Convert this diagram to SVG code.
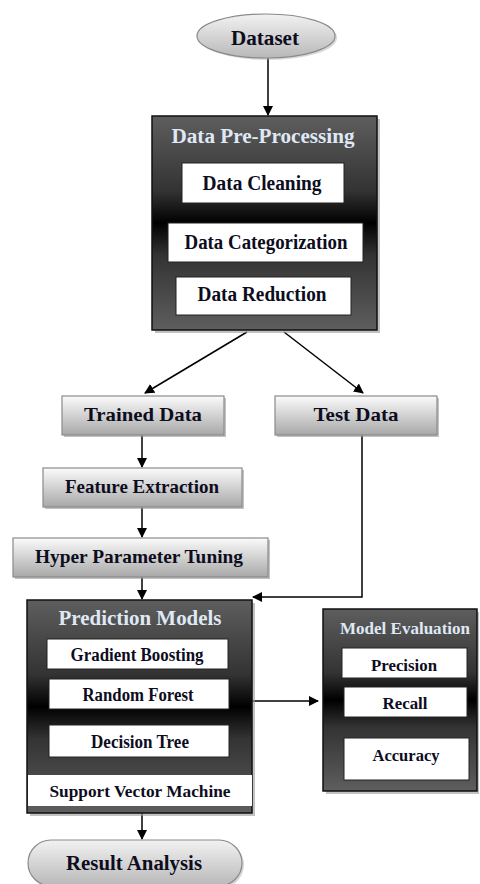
<svg xmlns="http://www.w3.org/2000/svg" width="480" height="884" viewBox="0 0 480 884">
<defs>
<linearGradient id="dark" x1="0" y1="0" x2="0" y2="1">
<stop offset="0" stop-color="#5e5e5e"/><stop offset="0.35" stop-color="#333"/><stop offset="0.5" stop-color="#000"/><stop offset="0.65" stop-color="#333"/><stop offset="1" stop-color="#5e5e5e"/>
</linearGradient>
<linearGradient id="light" x1="0" y1="0" x2="0" y2="1">
<stop offset="0" stop-color="#fbfbfb"/><stop offset="1" stop-color="#a8a8a8"/>
</linearGradient>
<linearGradient id="oval" x1="0" y1="0" x2="0" y2="1">
<stop offset="0" stop-color="#f2f2f2"/><stop offset="1" stop-color="#b8b8b8"/>
</linearGradient>
<marker id="ah" markerWidth="10" markerHeight="10" refX="9" refY="5" orient="auto" markerUnits="userSpaceOnUse">
<path d="M0,0 L10,5 L0,10 z" fill="#000"/>
</marker>
</defs>
<style>
.t{font-family:"Liberation Serif","Times New Roman",serif;font-weight:bold;fill:#0d0d1e;text-anchor:middle}
.h{font-family:"Liberation Serif","Times New Roman",serif;font-weight:bold;fill:#dfe8f4;text-anchor:middle}
.dk{fill:url(#dark);stroke:#111;stroke-width:1.5}
.lt{fill:url(#light);stroke:#8a8a8a;stroke-width:1.2}
.wb{fill:#fff;stroke:#222;stroke-width:1}
.sh{fill:#9a9a9a;opacity:0.6}
.c{fill:none;stroke:#000;stroke-width:1.5;marker-end:url(#ah)}
</style>
<g id="connectors">
<path class="c" d="M268,58 L268,115"/>
<path class="c" d="M247,332 L145,393"/>
<path class="c" d="M284,332 L363,393"/>
<path class="c" d="M142,435 L142,467"/>
<path class="c" d="M142,507 L142,537"/>
<path class="c" d="M142,577 L142,599"/>
<path class="c" d="M362,435 L362,597 L253,597"/>
<path class="c" d="M252,701 L318,701"/>
<path class="c" d="M142,809 L142,839"/>
</g>
<g id="dataset">
<ellipse cx="268" cy="38" rx="69" ry="22" fill="#b0b0b0" opacity="0.5"/>
<ellipse cx="266" cy="36" rx="69" ry="22" fill="url(#oval)" stroke="#8a8a8a" stroke-width="1.2"/>
<text class="t" x="265" y="45" font-size="20" textLength="68" lengthAdjust="spacingAndGlyphs">Dataset</text>
</g>
<g id="preprocessing">
<rect class="sh" x="155" y="119" width="225" height="214"/>
<rect class="dk" x="152" y="116" width="225" height="214"/>
<text class="h" x="263" y="143" font-size="20" textLength="183" lengthAdjust="spacingAndGlyphs">Data Pre-Processing</text>
<rect class="wb" x="182" y="163" width="162" height="40"/>
<text class="t" x="262" y="190" font-size="20" textLength="119" lengthAdjust="spacingAndGlyphs">Data Cleaning</text>
<rect class="wb" x="168" y="223" width="195" height="39"/>
<text class="t" x="266" y="249" font-size="20" textLength="163" lengthAdjust="spacingAndGlyphs">Data Categorization</text>
<rect class="wb" x="176" y="277" width="175" height="38"/>
<text class="t" x="262" y="301" font-size="20" textLength="129" lengthAdjust="spacingAndGlyphs">Data Reduction</text>
</g>
<g id="trained">
<rect class="sh" x="64" y="398" width="162" height="39"/>
<rect class="lt" x="62" y="396" width="162" height="39"/>
<text class="t" x="143" y="421" font-size="19" textLength="118" lengthAdjust="spacingAndGlyphs">Trained Data</text>
</g>
<g id="test">
<rect class="sh" x="277" y="398" width="162" height="39"/>
<rect class="lt" x="275" y="396" width="162" height="39"/>
<text class="t" x="356" y="421" font-size="19" textLength="85" lengthAdjust="spacingAndGlyphs">Test Data</text>
</g>
<g id="feature">
<rect class="sh" x="45" y="470" width="199" height="39"/>
<rect class="lt" x="43" y="468" width="199" height="39"/>
<text class="t" x="142" y="493" font-size="19" textLength="154" lengthAdjust="spacingAndGlyphs">Feature Extraction</text>
</g>
<g id="hyper">
<rect class="sh" x="15" y="540" width="255" height="39"/>
<rect class="lt" x="13" y="538" width="255" height="39"/>
<text class="t" x="139" y="563" font-size="19" textLength="208" lengthAdjust="spacingAndGlyphs">Hyper Parameter Tuning</text>
</g>
<g id="prediction">
<rect class="sh" x="30" y="603" width="225" height="213"/>
<rect class="dk" x="27" y="600" width="225" height="213"/>
<text class="h" x="140" y="625" font-size="20" textLength="163" lengthAdjust="spacingAndGlyphs">Prediction Models</text>
<rect class="wb" x="47" y="639" width="181" height="30"/>
<text class="t" x="137" y="661" font-size="18" textLength="133" lengthAdjust="spacingAndGlyphs">Gradient Boosting</text>
<rect class="wb" x="49" y="679" width="180" height="30"/>
<text class="t" x="138" y="701" font-size="18" textLength="111" lengthAdjust="spacingAndGlyphs">Random Forest</text>
<rect class="wb" x="49" y="725" width="180" height="32"/>
<text class="t" x="140" y="748" font-size="18" textLength="98" lengthAdjust="spacingAndGlyphs">Decision Tree</text>
<rect x="28" y="775" width="224" height="31" fill="#fff"/>
<text class="t" x="140" y="797" font-size="16" textLength="181" lengthAdjust="spacingAndGlyphs">Support Vector Machine</text>
</g>
<g id="result">
<rect x="30" y="842" width="214" height="46" rx="23" fill="#b0b0b0" opacity="0.5"/>
<rect x="28" y="840" width="214" height="46" rx="23" fill="url(#oval)" stroke="#8a8a8a" stroke-width="1.2"/>
<text class="t" x="134" y="870" font-size="20" textLength="136" lengthAdjust="spacingAndGlyphs">Result Analysis</text>
</g>
<g id="evaluation">
<rect class="sh" x="326" y="612" width="153" height="182"/>
<rect class="dk" x="323" y="609" width="154" height="182"/>
<text class="h" x="405" y="634" font-size="17" textLength="130" lengthAdjust="spacingAndGlyphs">Model Evaluation</text>
<rect class="wb" x="342" y="648" width="125" height="30"/>
<text class="t" x="404" y="671" font-size="17" textLength="66" lengthAdjust="spacingAndGlyphs">Precision</text>
<rect class="wb" x="344" y="687" width="123" height="30"/>
<text class="t" x="405" y="709" font-size="17" textLength="45" lengthAdjust="spacingAndGlyphs">Recall</text>
<rect class="wb" x="344" y="738" width="125" height="42"/>
<text class="t" x="406" y="761" font-size="17" textLength="67" lengthAdjust="spacingAndGlyphs">Accuracy</text>
</g>
</svg>
